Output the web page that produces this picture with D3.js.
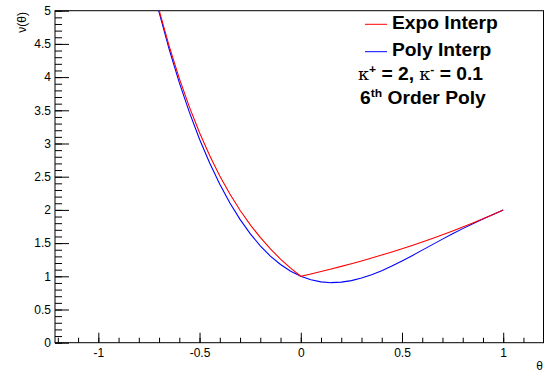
<!DOCTYPE html>
<html>
<head>
<meta charset="utf-8">
<script src="https://cdn.jsdelivr.net/npm/d3@7"></script>
<style>
  body { margin: 0; background: #fff; }
  svg { display: block; font-family: "Liberation Sans", Arial, sans-serif; }
</style>
</head>
<body>
<svg id="chart" width="544" height="375"></svg>
<script>
// values
const theta = [-0.75, -0.7, -0.65, -0.6, -0.55, -0.5, -0.45, -0.4, -0.35, -0.3, -0.25, -0.2, -0.15, -0.1, -0.05, 0,
  0.05, 0.1, 0.15, 0.2, 0.25, 0.3, 0.35, 0.4, 0.45, 0.5, 0.55, 0.6, 0.65, 0.7, 0.75, 0.8, 0.85, 0.9, 0.95, 1];
const expoInterp = [5.623, 5.012, 4.467, 3.981, 3.548, 3.162, 2.818, 2.512, 2.239, 1.995, 1.778, 1.585, 1.413, 1.259, 1.122, 1,
  1.035, 1.072, 1.110, 1.149, 1.189, 1.231, 1.275, 1.320, 1.366, 1.414, 1.464, 1.516, 1.569, 1.625, 1.682, 1.741, 1.803, 1.866, 1.932, 2];
const polyInterp = [5.602, 4.979, 4.419, 3.917, 3.468, 3.065, 2.706, 2.387, 2.105, 1.857, 1.643, 1.459, 1.304, 1.177, 1.076, 1,
  0.947, 0.916, 0.904, 0.912, 0.935, 0.973, 1.024, 1.085, 1.155, 1.231, 1.311, 1.394, 1.477, 1.560, 1.640, 1.718, 1.792, 1.863, 1.931, 2];
const xTicks = [-1, -0.5, 0, 0.5, 1];
const yTicks = [0, 0.5, 1, 1.5, 2, 2.5, 3, 3.5, 4, 4.5, 5];
const legendNames = ["Expo Interp", "Poly Interp"];
const legendColors = ["#ff0000", "#0000ff"];

const svg = d3.select("#chart");
const fLeft = 55, fRight = 543.5, fTop = 10.7, fBottom = 342.7;

const x = d3.scaleLinear().domain([-1.214, 1.199]).range([fLeft, fRight]);
const y = d3.scaleLinear().domain([0, 5]).range([fBottom, fTop]);

svg.append("clipPath").attr("id", "frame")
  .append("rect")
  .attr("x", fLeft).attr("y", fTop)
  .attr("width", fRight - fLeft).attr("height", fBottom - fTop);

// minor ticks
const xMinor = d3.range(-12, 12).map(i => i / 10);
const yMinor = d3.range(0, 51).map(i => i / 10);

svg.append("g")
  .attr("transform", `translate(0,${fBottom})`)
  .call(d3.axisBottom(x).tickValues(xMinor).tickSizeInner(-5).tickSizeOuter(0).tickFormat(""))
  .call(g => g.select(".domain").remove());

svg.append("g")
  .attr("transform", `translate(${fLeft},0)`)
  .call(d3.axisLeft(y).tickValues(yMinor).tickSizeInner(-7).tickSizeOuter(0).tickFormat(""))
  .call(g => g.select(".domain").remove());

// major ticks with labels (plain hyphen for negatives, like ROOT)
const xAxis = svg.append("g")
  .attr("transform", `translate(0,${fBottom})`)
  .call(d3.axisBottom(x).tickValues(xTicks).tickSizeInner(-10).tickSizeOuter(0)
    .tickPadding(6).tickFormat(d => String(d)));
xAxis.select(".domain").remove();
xAxis.selectAll("text").attr("font-size", 12).attr("font-family", "Liberation Sans, Arial, sans-serif");

const yAxis = svg.append("g")
  .attr("transform", `translate(${fLeft},0)`)
  .call(d3.axisLeft(y).tickValues(yTicks).tickSizeInner(-14).tickSizeOuter(0)
    .tickPadding(4).tickFormat(d => String(d)));
yAxis.select(".domain").remove();
yAxis.selectAll("text").attr("font-size", 12).attr("font-family", "Liberation Sans, Arial, sans-serif");

// frame
svg.append("rect")
  .attr("x", fLeft).attr("y", fTop)
  .attr("width", fRight - fLeft).attr("height", fBottom - fTop)
  .attr("fill", "none").attr("stroke", "#000").attr("stroke-width", 1);

// axis titles
svg.append("text")
  .attr("x", 543).attr("y", 370)
  .attr("text-anchor", "end").attr("font-size", 12)
  .text("θ");

svg.append("text")
  .attr("transform", "translate(26,12) rotate(-90)")
  .attr("text-anchor", "end").attr("font-size", 12)
  .text("ν(θ)");

// curves
const line = d3.line()
  .x(d => x(d[0]))
  .y(d => y(d[1]));

const plot = svg.append("g").attr("clip-path", "url(#frame)");
plot.append("path")
  .datum(theta.map((t, i) => [t, polyInterp[i]]))
  .attr("fill", "none").attr("stroke", legendColors[1]).attr("stroke-width", 1.1)
  .attr("d", line);
plot.append("path")
  .datum(theta.map((t, i) => [t, expoInterp[i]]))
  .attr("fill", "none").attr("stroke", legendColors[0]).attr("stroke-width", 1.1)
  .attr("d", line);

// legend
const legend = svg.append("g").attr("font-weight", "bold");
const legendY = [24.3, 51.7];
legendNames.forEach((name, i) => {
  legend.append("line")
    .attr("x1", 365).attr("x2", 387)
    .attr("y1", legendY[i]).attr("y2", legendY[i])
    .attr("stroke", legendColors[i]).attr("stroke-width", 1);
  legend.append("text")
    .attr("transform", `translate(392,${legendY[i] + 4.3}) scale(1.1,1)`)
    .attr("font-size", 17.5)
    .text(name);
});

const kLine = legend.append("text")
  .attr("transform", "translate(358,80) scale(1.1,1)").attr("font-size", 17.5);
kLine.append("tspan").attr("font-family", "DejaVu Serif, serif").attr("font-weight", "normal").attr("font-size", 16).text("κ");
kLine.append("tspan").attr("font-size", 11).attr("dy", -7).text("+");
kLine.append("tspan").attr("dy", 7).text(" = 2, ");
kLine.append("tspan").attr("font-family", "DejaVu Serif, serif").attr("font-weight", "normal").attr("font-size", 16).text("κ");
kLine.append("tspan").attr("font-size", 11).attr("dy", -7).text("-");
kLine.append("tspan").attr("dy", 7).text(" = 0.1");

const oLine = legend.append("text")
  .attr("transform", "translate(360,104.3) scale(1.1,1)").attr("font-size", 17.5);
oLine.append("tspan").text("6");
oLine.append("tspan").attr("font-size", 11).attr("dy", -7).text("th");
oLine.append("tspan").attr("dy", 7).text(" Order Poly");
</script>
</body>
</html>
